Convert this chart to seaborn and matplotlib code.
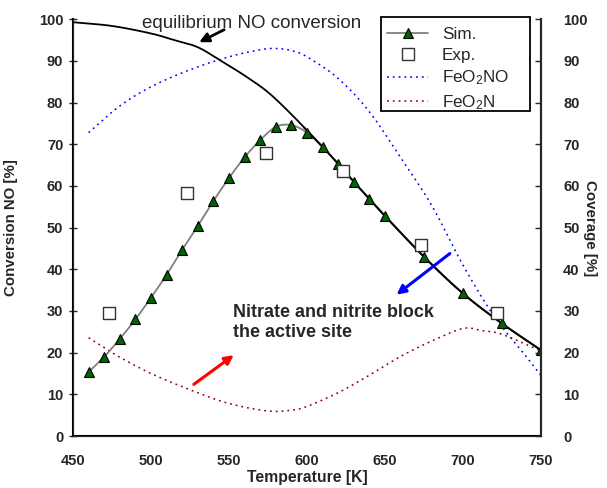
import numpy as np
import pandas as pd
import matplotlib
matplotlib.use("Agg")
import matplotlib.pyplot as plt
from matplotlib.patches import Rectangle
from matplotlib.lines import Line2D
import seaborn as sns

sns.set_style("white")
plt.rcParams['font.family'] = ['Liberation Sans', 'DejaVu Sans']
plt.rcParams['mathtext.fontset'] = 'custom'
plt.rcParams['mathtext.rm'] = 'Liberation Sans'
plt.rcParams['mathtext.it'] = 'Liberation Sans:italic'
plt.rcParams['mathtext.bf'] = 'Liberation Sans:bold'

# Simulation (conversion NO)
sim_T = [460, 470, 480, 490, 500, 510, 520, 530, 540, 550, 560, 570, 580, 590,
         600, 610, 620, 630, 640, 650, 675, 700, 725, 750]
sim_conv = [15.3, 19.0, 23.3, 28.0, 33.2, 38.7, 44.7, 50.4, 56.4, 61.9, 66.9, 71.0,
            74.2, 74.6, 72.8, 69.3, 65.3, 61.0, 56.9, 52.8, 43.0, 34.2, 27.0, 20.6]

# Experiment
exp_T = [473, 523, 574, 623, 673, 722]
exp_conv = [29.6, 58.2, 67.8, 63.6, 45.9, 29.6]

# Equilibrium NO conversion
eq_T = [450, 475, 500, 515, 530, 545, 560, 575, 590, 600, 610, 620, 630, 640, 650,
        675, 700, 725, 750]
eq_conv = [99.3, 98.4, 96.6, 95.0, 93.3, 90.0, 86.5, 82.5, 77.2, 73.3, 69.4, 65.3,
           61.0, 56.9, 52.8, 43.0, 34.2, 27.0, 20.6]

# Coverage FeO2NO
no_T = [460, 480, 500, 525, 550, 570, 580, 590, 600, 620, 640, 660, 680, 700, 720, 740, 750]
no_cov = [72.8, 79.2, 83.8, 87.9, 91.0, 92.7, 93.0, 92.5, 91.0, 85.8, 77.8, 66.8,
          55.3, 41.0, 28.7, 19.3, 14.5]

# Coverage FeO2N
n_T = [460, 470, 480, 500, 525, 550, 575, 590, 600, 620, 640, 660, 680, 700, 712, 725, 750]
n_cov = [23.6, 21.2, 18.9, 15.0, 11.1, 7.8, 6.0, 6.2, 7.1, 10.4, 14.6, 19.1, 22.8,
         25.8, 25.3, 24.4, 20.4]

x_ticks = [450, 500, 550, 600, 650, 700, 750]
y_ticks = [0, 10, 20, 30, 40, 50, 60, 70, 80, 90, 100]


def smooth(xs, ys):
    xs = np.asarray(xs, float)
    ys = np.asarray(ys, float)
    px, py = [], []
    P = np.column_stack([xs, ys])
    P = np.vstack([P[0] - (P[1] - P[0]), P, P[-1] + (P[-1] - P[-2])])
    for i in range(1, len(P) - 2):
        p0, p1, p2, p3 = P[i - 1], P[i], P[i + 1], P[i + 2]
        t = np.linspace(0, 1, 20, endpoint=False)[:, None]
        c = 0.5 * ((2 * p1) + (-p0 + p2) * t + (2 * p0 - 5 * p1 + 4 * p2 - p3) * t ** 2
                   + (-p0 + 3 * p1 - 3 * p2 + p3) * t ** 3)
        px.extend(c[:, 0]); py.extend(c[:, 1])
    px.append(xs[-1]); py.append(ys[-1])
    return np.array(px), np.array(py)


W, H = 607, 488
fig = plt.figure(figsize=(W / 100, H / 100), dpi=100)
ax = fig.add_axes([73 / W, 1 - 436 / H, (541 - 73) / W, (436 - 19.3) / H])

DOT = (0, (1.2, 2.6))

ex, ey = smooth(eq_T, eq_conv)
sns.lineplot(x=ex, y=ey, ax=ax, color='black', linewidth=1.3, sort=False, legend=False)

bx, by = smooth(no_T, no_cov)
sns.lineplot(x=bx, y=by, ax=ax, color='#0000ff', linewidth=1.1, linestyle=DOT,
             sort=False, legend=False)
rx, ry = smooth(n_T, n_cov)
sns.lineplot(x=rx, y=ry, ax=ax, color='#8b0000', linewidth=1.1, linestyle=DOT,
             sort=False, legend=False)

sx, sy = smooth(sim_T, sim_conv)
sns.lineplot(x=sx, y=sy, ax=ax, color='#808080', linewidth=1.3, sort=False, legend=False)
ax.plot(ex[ex >= 598], ey[ex >= 598], color='black', linewidth=1.3, zorder=3)
sns.lineplot(x=sim_T, y=sim_conv, ax=ax, color='black', linewidth=0, marker='^',
             markersize=6.5, markerfacecolor='#006400', markeredgecolor='black',
             markeredgewidth=0.8, legend=False, zorder=4)

sns.scatterplot(x=exp_T, y=exp_conv, ax=ax, marker='s', s=70, facecolor='white',
                edgecolor='#333333', linewidth=1.0, zorder=5, legend=False)

TF = 10.5
ax.set_xlim(450, 750)
ax.set_ylim(0, 100)
ax.set_xticks(x_ticks)
ax.set_yticks(y_ticks)
ax.set_xticklabels([str(t) for t in x_ticks], fontweight='bold', fontsize=TF)
ax.set_yticklabels([str(t) for t in y_ticks], fontweight='bold', fontsize=TF)
ax.tick_params(axis='x', direction='in', length=4, width=1, pad=13)
ax.tick_params(axis='y', direction='inout', length=6, width=1, pad=4)
for s in ['left', 'bottom', 'right']:
    ax.spines[s].set_linewidth(1.5)
    ax.spines[s].set_color('black')
ax.spines['top'].set_visible(False)

ax.set_xlabel('Temperature [K]', fontweight='bold', fontsize=11.3)
ax.xaxis.set_label_coords(0.5, -0.082)
ax.set_ylabel('Conversion NO [%]', fontweight='bold', fontsize=10.8)
ax.yaxis.set_label_coords(-0.118, 0.5)

ax2 = ax.twinx()
ax2.set_ylim(0, 100)
ax2.set_yticks(y_ticks)
ax2.set_yticklabels([str(t) for t in y_ticks], fontweight='bold', fontsize=TF)
ax2.tick_params(axis='y', direction='in', length=4, width=1, pad=16)
ax2.spines['right'].set_linewidth(1.5)
ax2.spines['top'].set_visible(False)
ax2.set_ylabel('Coverage [%]', fontweight='bold', fontsize=10.8, rotation=270)
ax2.yaxis.set_label_coords(1.12, 0.5)

# annotations
ax.annotate('', xy=(529.3, 94.2), xytext=(548.5, 97.8),
            arrowprops=dict(arrowstyle='-|>', color='black', lw=2, mutation_scale=14))
ax.text(494.5, 99.0, 'equilibrium NO conversion', fontsize=13.5, va='center', ha='left')
ax.annotate('', xy=(554.5, 19.8), xytext=(526, 12.0),
            arrowprops=dict(arrowstyle='-|>', color='#ff0000', lw=2.2, mutation_scale=13))
ax.annotate('', xy=(656, 33.5), xytext=(693, 44.2),
            arrowprops=dict(arrowstyle='-|>', color='#0000ff', lw=2.2, mutation_scale=13))
ax.text(552.5, 27.3, 'Nitrate and nitrite block\nthe active site', fontsize=12.9,
        fontweight='bold', va='center', ha='left', linespacing=1.2)

# legend box (drawn separately to match the wide frame)
box = Rectangle((381 / W, 1 - 111 / H), (530 - 381) / W, (111 - 17) / H,
                transform=fig.transFigure, facecolor='white', edgecolor='black',
                linewidth=1.3, zorder=10)
fig.patches.append(box)

handles = [
    Line2D([], [], color='#808080', lw=1.3, marker='^', markersize=6.5,
           markerfacecolor='#006400', markeredgecolor='black', markeredgewidth=0.8),
    Line2D([], [], color='none', marker='s', markersize=8, markerfacecolor='white',
           markeredgecolor='#333333', markeredgewidth=1.0),
    Line2D([], [], color='#0000ff', lw=1.1, linestyle=DOT),
    Line2D([], [], color='#8b0000', lw=1.1, linestyle=DOT),
]
labels = ['Sim.', 'Exp.', 'FeO$_2$NO', 'FeO$_2$N']
leg = fig.legend(handles, labels, loc='upper left', bbox_to_anchor=(384 / W, 1 - 24 / H),
                 bbox_transform=fig.transFigure, frameon=False,
                 fontsize=12.3, handlelength=2.4, borderpad=0.2,
                 labelspacing=0.33, handletextpad=0.8, borderaxespad=0)
leg.set_zorder(11)

fig.savefig('out.png', dpi=100)
